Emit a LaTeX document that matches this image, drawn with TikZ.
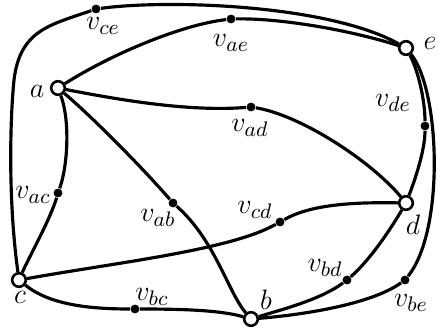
\documentclass[tikz,border=0pt]{standalone}
\usepackage{amsmath}
\usepackage{tikz}
\usetikzlibrary{positioning, calc}
\tikzset{
  vertex/.style={circle, draw=black, fill=white, inner sep=0pt,
    minimum size=5.8pt, line width=1.1pt},
  subdot/.style={circle, fill=black, inner sep=0pt, minimum size=3.8pt},
  vlabel/.style={font=\fontsize{12.5}{14}\selectfont, inner sep=0pt},
  edge/.style={line width=1.35pt, color=black}
}

\begin{document}
\begin{tikzpicture}[x=0.015cm, y=-0.015cm]
  \useasboundingbox (0,0) rectangle (438,330);

  % main vertices
  \node[vertex] (a) at (58,88) {};
  \node[vertex] (b) at (251,319) {};
  \node[vertex] (c) at (19,280) {};
  \node[vertex] (d) at (406,203) {};
  \node[vertex] (e) at (406,48) {};

  % subdivision vertices
  \node[subdot] (vce) at (96,9) {};
  \node[subdot] (vae) at (231,19) {};
  \node[subdot] (vad) at (251,107) {};
  \node[subdot] (vde) at (425,126) {};
  \node[subdot] (vac) at (58,193) {};
  \node[subdot] (vab) at (173,203) {};
  \node[subdot] (vcd) at (280,222) {};
  \node[subdot] (vbd) at (347,280) {};
  \node[subdot] (vbe) at (405,280) {};
  \node[subdot] (vbc) at (135,309) {};

  % labels
  \node[vlabel] (la) at (37,91) {$a$};
  \node[vlabel] (lb) at (266,300) {$b$};
  \node[vlabel] (lc) at (20,297) {$c$};
  \node[vlabel] (ld) at (413,225) {$d$};
  \node[vlabel] (le) at (430,43) {$e$};
  \node[vlabel] (lce) at (103,26) {$v_{ce}$};
  \node[vlabel] (lae) at (231,43) {$v_{ae}$};
  \node[vlabel] (lad) at (250,128) {$v_{ad}$};
  \node[vlabel] (lde) at (393,103) {$v_{de}$};
  \node[vlabel] (lac) at (33,195) {$v_{ac}$};
  \node[vlabel] (lab) at (158,218) {$v_{ab}$};
  \node[vlabel] (lcd) at (255,210) {$v_{cd}$};
  \node[vlabel] (lbd) at (325,268) {$v_{bd}$};
  \node[vlabel] (lbe) at (411,303) {$v_{be}$};
  \node[vlabel] (lbc) at (152,297) {$v_{bc}$};

  % edges
  \draw[edge] (c) .. controls (8,200) and (10,120) .. (14,80)
    .. controls (20,30) and (50,25) .. (vce);
  \draw[edge] (vce) .. controls (170,-1) and (330,5) .. (e);
  \draw[edge] (a) .. controls (110,55) and (180,25) .. (vae);
  \draw[edge] (vae) .. controls (280,18) and (350,30) .. (e);
  \draw[edge] (a) .. controls (120,100) and (190,112) .. (vad);
  \draw[edge] (vad) .. controls (300,115) and (370,160) .. (d);
  \draw[edge] (e) .. controls (418,70) and (425,100) .. (vde);
  \draw[edge] (vde) .. controls (425,150) and (415,180) .. (d);
  \draw[edge] (e) .. controls (440,90) and (445,230) .. (vbe);
  \draw[edge] (vbe) .. controls (370,305) and (300,315) .. (b);
  \draw[edge] (d) .. controls (390,230) and (370,260) .. (vbd);
  \draw[edge] (vbd) .. controls (320,300) and (280,310) .. (b);
  \draw[edge] (c) .. controls (120,262) and (230,250) .. (vcd);
  \draw[edge] (vcd) .. controls (310,205) and (350,202) .. (d);
  \draw[edge] (a) .. controls (90,115) and (140,165) .. (vab);
  \draw[edge] (vab) .. controls (215,240) and (228,292) .. (b);
  \draw[edge] (a) .. controls (70,120) and (68,165) .. (vac);
  \draw[edge] (vac) .. controls (50,220) and (30,255) .. (c);
  \draw[edge] (c) .. controls (50,305) and (90,309) .. (vbc);
  \draw[edge] (vbc) .. controls (180,309) and (220,310) .. (b);
\end{tikzpicture}
\end{document}
